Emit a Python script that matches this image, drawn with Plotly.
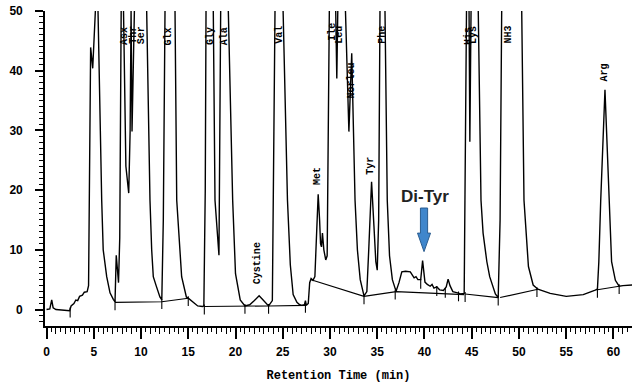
import plotly.graph_objects as go

# ---------------- data ----------------
SIG_T = [0.0, 0.35, 0.55, 0.7, 1.0, 1.5, 2.0, 2.45, 2.6, 2.9, 3.1, 3.3, 3.5, 3.8, 4.0, 4.3,
         4.45, 4.55, 4.67, 4.89, 5.17, 5.3, 5.45, 5.84, 6.0, 6.37, 6.72, 7.07, 7.25,
         7.38, 7.48, 7.62, 7.75, 7.9, 8.0, 8.15, 8.4, 8.7, 8.85, 8.95, 9.05, 9.3, 9.7, 10.6,
         10.95, 11.13, 11.3, 11.6, 12.0, 12.2,
         12.36, 12.54, 13.0, 13.6, 13.78, 14.3, 14.8, 15.0, 15.5, 16.0, 16.5, 16.65,
         16.8, 16.88, 17.25, 17.65, 17.83, 18.25, 18.43, 18.8, 19.24, 19.7,
         20.0, 20.5, 21.0, 21.5, 22.0, 22.5, 22.8, 23.2, 23.5, 23.9,
         24.18, 24.6, 25.06, 25.5, 25.8, 26.1, 26.5, 26.8, 27.0, 27.3, 27.4, 27.5, 27.7,
         27.85, 28.0, 28.2, 28.4, 28.55, 28.75, 28.9, 29.0, 29.1, 29.2, 29.35, 29.55, 29.7,
         29.85, 29.93, 30.3, 30.72, 31.1, 31.6, 32.0, 32.3, 32.65, 32.9, 33.2, 33.6,
         33.9, 34.1, 34.4, 34.65, 34.85, 35.0, 35.15, 35.29, 35.55, 35.82, 36.06, 36.3,
         36.6, 36.9, 37.0, 37.3, 37.6, 38.0, 38.5, 38.7, 38.9, 39.1, 39.3, 39.6, 39.8,
         40.05, 40.3, 40.6, 40.8, 41.0, 41.3, 41.6, 42.0, 42.3, 42.5, 42.7, 43.0, 43.5,
         43.8, 44.2, 44.35, 44.47, 44.6, 44.8, 45.1, 45.69, 45.98, 46.2, 46.35, 46.45,
         46.6, 46.9, 47.5, 47.8, 48.0, 48.17, 49.2, 50.29, 50.53, 51.0, 51.5, 52.0, 53.3,
         55.0, 56.8, 58.0, 58.3, 58.45, 58.65, 59.1, 59.55, 59.8, 60.2, 60.6, 61.0, 62.0]
SIG_V = [0.0, 0.1, 1.6, 0.3, 0.0, -0.1, -0.2, -0.2, 0.6, 1.0, 1.6, 1.5, 2.2, 2.4, 2.9, 3.0,
         4.0, 25.0, 43.9, 40.4, 50.0, 75.0, 50.0, 18.3, 10.0, 5.5, 2.8, 1.7, 1.3,
         9.1, 6.5, 4.5, 12.0, 50.0, 75.0, 50.0, 24.0, 19.5, 30.0, 50.0, 29.8, 50.0, 75.0, 50.0,
         18.3, 10.0, 5.5, 4.0, 2.1, 1.6,
         15.0, 50.0, 80.0, 50.0, 18.3, 5.5, 2.1, 1.9, 1.2, 0.6, 0.5, 0.6,
         20.0, 50.0, 80.0, 50.0, 18.3, 9.1, 50.0, 80.0, 50.0, 18.3,
         6.0, 1.6, 0.6, 0.8, 1.5, 2.3, 1.8, 1.0, 0.6, 1.5,
         50.0, 80.0, 50.0, 18.3, 7.5, 2.5, 1.2, 0.8, 0.7, 0.8, 1.5, 0.7, 1.0,
         4.5, 5.2, 4.9, 5.5, 12.0, 19.3, 15.0, 11.0, 10.5, 12.8, 10.0, 8.3, 9.0,
         30.0, 50.0, 80.0, 38.7, 80.0, 50.0, 29.8, 42.9, 18.3, 10.0, 5.0, 2.3,
         3.0, 10.0, 21.4, 14.0, 8.0, 6.6, 15.0, 50.0, 80.0, 50.0, 18.3, 9.0,
         5.0, 3.5, 3.1, 4.5, 6.3, 6.4, 6.3, 5.8, 5.3, 5.5, 5.0, 5.0, 8.2,
         4.6, 4.2, 3.9, 4.2, 3.6, 3.8, 3.3, 3.2, 3.8, 5.1, 4.0, 3.0, 2.8,
         2.6, 2.7, 30.0, 50.0, 80.0, 28.1, 80.0, 50.0, 18.3, 12.8, 11.0, 10.5,
         8.0, 5.5, 2.6, 2.0, 15.0, 50.0, 90.0, 50.0, 18.3, 7.2, 4.1, 3.4, 2.7,
         2.2, 2.5, 3.2, 3.4, 8.0, 18.3, 36.8, 18.3, 8.0, 4.9, 3.9, 4.0, 4.1]

# integration baselines (None separates segments)
BASE_T = [7.25, 12.2, 15.0, None, 16.7, 21.0, 23.5, 27.5, None, 28.0, 33.6, 37.0, 44.2, None,
          44.3, 47.8, None, 48.0, 52.0, None, 58.3, 60.6]
BASE_V = [1.2, 1.3, 1.9, None, 0.5, 0.5, 0.6, 0.7, None, 5.0, 2.2, 3.0, 2.5, None,
          2.6, 2.0, None, 2.0, 3.4, None, 3.3, 3.9]

# integration event marks
EVT_T = [2.5, 7.25, 12.2, 15.0, 16.7, 21.0, 23.5, 27.4, 33.6, 36.9, 39.6, 41.3, 42.2, 43.6,
         44.3, 47.8, 51.9, 58.3, 60.6]
EVT_V = [0.0, 1.2, 1.4, 1.9, 0.5, 0.6, 0.6, 0.8, 2.2, 3.0, 4.8, 3.6, 3.3, 2.7,
         2.6, 2.0, 3.4, 3.3, 3.9]

PEAK_NAMES = ["Asx", "Thr", "Ser", "Glx", "Gly", "Ala", "Cystine", "Val", "Met", "Ile", "Leu",
              "Norleu", "Tyr", "Phe", "His", "Lys", "NH3", "Arg"]
PEAK_T = [8.2, 9.25, 10.05, 12.9, 17.3, 18.8, 22.4, 24.7, 28.75, 30.3, 31.05,
          32.3, 34.3, 35.6, 44.6, 45.25, 48.9, 59.1]
PEAK_LABEL_V = [45.8, 46.0, 46.0, 45.8, 45.8, 45.8, 7.8, 46.0, 22.4, 46.5, 46.0,
                38.3, 24.0, 46.0, 45.8, 46.0, 46.0, 39.7]

X_TICKS = [0, 5, 10, 15, 20, 25, 30, 35, 40, 45, 50, 55, 60]
Y_TICKS = [0, 10, 20, 30, 40, 50]

DITYR_LABEL = "Di-Tyr"
DITYR_T = 39.95
X_TITLE = "Retention Time (min)"

# ---------------- figure ----------------
X_RANGE = [-0.16, 61.96]
Y_RANGE = [-2.76, 50.0]

fig = go.Figure()
fig.add_trace(go.Scatter(x=BASE_T, y=BASE_V, mode="lines", line=dict(color="black", width=1.1),
                         connectgaps=False, hoverinfo="skip", showlegend=False))
fig.add_trace(go.Scatter(x=SIG_T, y=SIG_V, mode="lines", line=dict(color="black", width=1.4),
                         hoverinfo="skip", showlegend=False))
fig.add_trace(go.Scatter(x=EVT_T, y=[v - 0.5 for v in EVT_V], mode="markers",
                         marker=dict(symbol="line-ns", size=7,
                                     line=dict(color="black", width=1.1)),
                         hoverinfo="skip", showlegend=False))
# carrier for the 1-minute tick axis
fig.add_trace(go.Scatter(x=[None], y=[None], xaxis="x2", mode="markers",
                         hoverinfo="skip", showlegend=False))

for name, t, v in zip(PEAK_NAMES, PEAK_T, PEAK_LABEL_V):
    fig.add_annotation(x=t, y=v, text="<b>%s</b>" % name, textangle=-90, showarrow=False,
                       xanchor="center", yanchor="middle",
                       font=dict(family="Liberation Mono", size=10, color="black"))

# Di-Tyr label and block arrow
fig.add_annotation(x=DITYR_T + 0.1, y=19.0, text="<b>%s</b>" % DITYR_LABEL, showarrow=False,
                   xanchor="center", yanchor="middle",
                   font=dict(family="Liberation Sans", size=17, color="#222222"))
sw, hw = 0.38, 0.69
y_top, y_neck, y_tip = 17.0, 12.8, 9.7
path = ("M %f,%f L %f,%f L %f,%f L %f,%f L %f,%f L %f,%f L %f,%f Z" % (
    DITYR_T - sw, y_top, DITYR_T + sw, y_top, DITYR_T + sw, y_neck, DITYR_T + hw, y_neck,
    DITYR_T, y_tip, DITYR_T - hw, y_neck, DITYR_T - sw, y_neck))
fig.add_shape(type="path", path=path, xref="x", yref="y", fillcolor="#3F86CC",
              line=dict(color="#2A5C8F", width=1))

fig.update_layout(
    width=632, height=389, margin=dict(l=45, r=0, t=11, b=63),
    paper_bgcolor="white", plot_bgcolor="white",
    xaxis=dict(range=X_RANGE, tickvals=X_TICKS, ticktext=[str(v) for v in X_TICKS],
               ticks="outside", ticklen=11, tickwidth=1.5, tickcolor="black",
               showline=True, linecolor="black", linewidth=1.6, showgrid=False, zeroline=False,
               minor=dict(dtick=0.5, tick0=0, ticks="outside", ticklen=4, tickwidth=1.2,
                          tickcolor="black", showgrid=False),
               tickfont=dict(family="Liberation Sans", size=12, color="black", weight="bold"),
               ticklabelstandoff=3,
               title=dict(text=X_TITLE, standoff=12,
                          font=dict(family="Liberation Mono", size=12, color="black",
                                    weight="bold"))),
    xaxis2=dict(range=X_RANGE, overlaying="x", anchor="y", side="bottom",
                tickmode="linear", tick0=0, dtick=1, ticks="outside", ticklen=7,
                tickwidth=1.2, tickcolor="black", showticklabels=False, showline=False,
                showgrid=False, zeroline=False),
    yaxis=dict(range=Y_RANGE, tickvals=Y_TICKS, ticktext=[str(v) for v in Y_TICKS],
               ticks="outside", ticklen=8, tickwidth=1.5, tickcolor="black",
               showline=True, linecolor="black", linewidth=1.6, showgrid=False, zeroline=False,
               minor=dict(dtick=1, tick0=0, ticks="outside", ticklen=4, tickwidth=1.1,
                          tickcolor="black", showgrid=False),
               tickfont=dict(family="Liberation Sans", size=12, color="black", weight="bold"),
               ticklabelstandoff=10),
)

fig.write_html("out.html")
